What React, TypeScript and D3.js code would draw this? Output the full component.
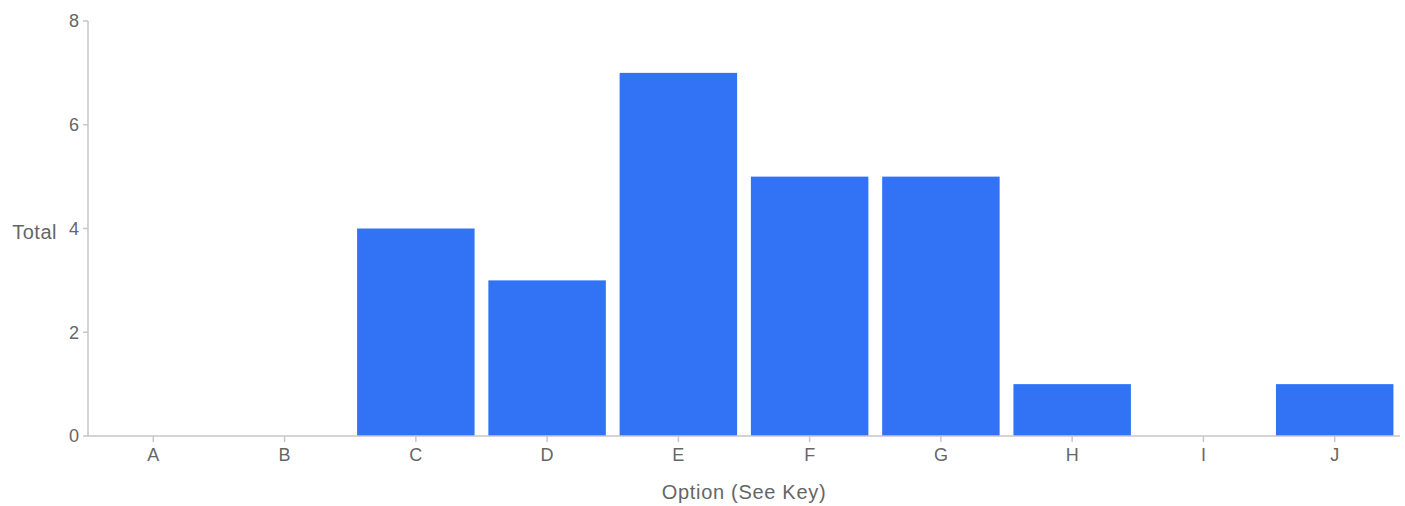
import React from "react";
import * as d3 from "d3";

const categories = ["A", "B", "C", "D", "E", "F", "G", "H", "I", "J"];
const totals = [0, 0, 4, 3, 7, 5, 5, 1, 0, 1];
const yTicks = [0, 2, 4, 6, 8];

const W = 1405;
const H = 506;
const left = 88;
const right = 1400;
const top = 21;
const bottom = 436;
const axisColor = "#c6c6c6";
const textColor = "#666666";
const font = "'Liberation Sans', Arial, sans-serif";

export default function App() {
  const x = d3.scaleBand<string>().domain(categories).range([left, right]).paddingInner(0.105).paddingOuter(0.05);
  const y = d3.scaleLinear().domain([0, 8]).range([bottom, top]);
  return (
    <svg width={W} height={H} style={{ position: "absolute", left: 0, top: 0, display: "block" }} fontFamily={font}>
      {categories.map((c, i) =>
        totals[i] > 0 ? (
          <rect key={c} x={x(c)!} y={y(totals[i])} width={x.bandwidth()} height={y(0) - y(totals[i])} fill="#3273f6" />
        ) : null
      )}
      <line x1={left} x2={left} y1={top} y2={bottom} stroke={axisColor} strokeWidth={1.5} />
      <line x1={left} x2={right} y1={bottom} y2={bottom} stroke={axisColor} strokeWidth={1.5} />
      {yTicks.map((t) => (
        <g key={t}>
          <line x1={left - 5} x2={left} y1={y(t)} y2={y(t)} stroke={axisColor} strokeWidth={1.5} />
          <text x={left - 9} y={y(t)} dy="0.35em" textAnchor="end" fontSize={18} fill={textColor}>
            {t}
          </text>
        </g>
      ))}
      {categories.map((c) => {
        const cx = x(c)! + x.bandwidth() / 2;
        return (
          <g key={c}>
            <line x1={cx} x2={cx} y1={bottom} y2={bottom + 6} stroke={axisColor} strokeWidth={1.5} />
            <text x={cx} y={bottom + 19} dy="0.35em" textAnchor="middle" fontSize={18} fill={textColor}>
              {c}
            </text>
          </g>
        );
      })}
      <text x={57} y={y(4) + 3} dy="0.35em" textAnchor="end" fontSize={20} letterSpacing={0.5} fill={textColor}>
        Total
      </text>
      <text x={(left + right) / 2} y={492} dy="0.35em" textAnchor="middle" fontSize={20} letterSpacing={0.7} fill={textColor}>
        Option (See Key)
      </text>
    </svg>
  );
}
